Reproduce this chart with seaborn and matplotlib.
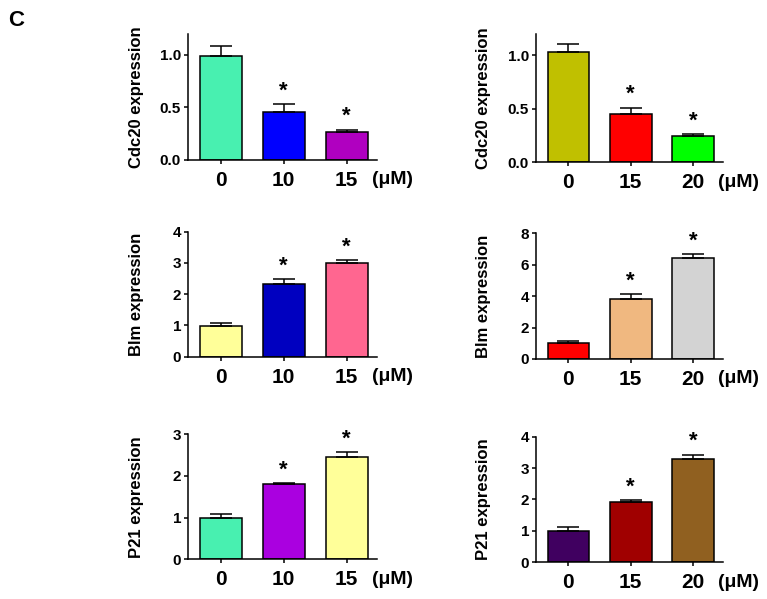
import matplotlib
matplotlib.use("Agg")
import matplotlib.pyplot as plt
import seaborn as sns
import pandas as pd

# doses per column
doses_left = ["0", "10", "15"]
doses_right = ["0", "15", "20"]

# Cdc20
cdc20_left = [0.99, 0.46, 0.27]
cdc20_left_err = [0.10, 0.07, 0.02]
cdc20_right = [1.03, 0.45, 0.24]
cdc20_right_err = [0.08, 0.06, 0.02]

# Blm
blm_left = [0.98, 2.34, 2.99]
blm_left_err = [0.11, 0.14, 0.10]
blm_right = [1.04, 3.80, 6.45]
blm_right_err = [0.11, 0.32, 0.23]

# P21
p21_left = [1.00, 1.81, 2.45]
p21_left_err = [0.08, 0.02, 0.12]
p21_right = [1.00, 1.91, 3.29]
p21_right_err = [0.11, 0.07, 0.13]

significant = [False, True, True]

sns.set_style("ticks")
plt.rcParams["font.family"] = ["Liberation Sans", "DejaVu Sans"]
plt.rcParams["font.weight"] = "bold"
plt.rcParams["axes.labelweight"] = "bold"
plt.rcParams["text.color"] = "black"
plt.rcParams["axes.labelcolor"] = "black"
plt.rcParams["xtick.color"] = "black"
plt.rcParams["ytick.color"] = "black"

fig = plt.figure(figsize=(7.67, 5.99), dpi=100)

panels = [
    # (doses, values, errors, colours, ymax, yticks, fmt, label, rect)
    (doses_left, cdc20_left, cdc20_left_err, ["#48F0B0", "#0000FF", "#B000C0"],
     1.2, [0, 0.5, 1.0], "{:.1f}", "Cdc20 expression", [0.2451, 0.7329, 0.2464, 0.2104]),
    (doses_right, cdc20_right, cdc20_right_err, ["#C0C000", "#FF0000", "#00FF00"],
     1.2, [0, 0.5, 1.0], "{:.1f}", "Cdc20 expression", [0.6988, 0.7295, 0.2438, 0.2137]),
    (doses_left, blm_left, blm_left_err, ["#FFFF99", "#0000C0", "#FF6690"],
     4, [0, 1, 2, 3, 4], "{:.0f}", "Blm expression", [0.2451, 0.4045, 0.2464, 0.2087]),
    (doses_right, blm_right, blm_right_err, ["#FF0000", "#F0B880", "#D3D3D3"],
     8, [0, 2, 4, 6, 8], "{:.0f}", "Blm expression", [0.6988, 0.4007, 0.2438, 0.2098]),
    (doses_left, p21_left, p21_left_err, ["#48F0B0", "#AA00E0", "#FFFF99"],
     3, [0, 1, 2, 3], "{:.0f}", "P21 expression", [0.2451, 0.0663, 0.2464, 0.2087]),
    (doses_right, p21_right, p21_right_err, ["#400060", "#A00000", "#906020"],
     4, [0, 1, 2, 3, 4], "{:.0f}", "P21 expression", [0.6988, 0.0613, 0.2438, 0.2097]),
]

for doses, vals, errs, cols, ymax, yticks, fmt, label, rect in panels:
    ax = fig.add_axes(rect)
    df = pd.DataFrame({"dose": doses, "value": vals})
    sns.barplot(data=df, x="dose", y="value", hue="dose", palette=cols,
                saturation=1, legend=False, width=0.67, edgecolor="black",
                linewidth=1.1, errorbar=None, ax=ax)
    ax.errorbar(range(len(vals)), vals, yerr=[[0] * len(vals), errs], fmt="none",
                ecolor="black", elinewidth=1.1, capsize=8, capthick=1.1, zorder=3)
    for i, (v, e, s) in enumerate(zip(vals, errs, significant)):
        if s:
            ax.annotate("*", xy=(i, v + e), xytext=(0, 2), textcoords="offset points",
                        ha="center", va="bottom", fontsize=16, fontweight="bold")
    ax.set_xlim(-0.52, 2.48)
    ax.set_ylim(0, ymax)
    ax.set_yticks(yticks)
    ax.set_yticklabels([fmt.format(t) for t in yticks])
    ax.set_xlabel("")
    ax.set_ylabel(label, fontsize=12, fontweight="bold")
    ax.yaxis.set_label_coords(-0.235 if rect[0] < 0.5 else -0.242, 0.5)
    ax.tick_params(axis="y", labelsize=11, length=3, width=1.1, pad=2)
    ax.tick_params(axis="x", labelsize=15, length=3, width=1.1, pad=5)
    for t in ax.get_xticklabels() + ax.get_yticklabels():
        t.set_fontweight("bold")
    for sp in ["left", "bottom"]:
        ax.spines[sp].set_linewidth(1.1)
        ax.spines[sp].set_color("black")
    sns.despine(ax=ax)
    ax.annotate("(μM)", xy=(1.0, 0), xycoords="axes fraction", xytext=(-3.6, -14.4),
                textcoords="offset points", ha="left", va="center",
                fontsize=14, fontweight="bold")

fig.text(0.0215, 1 - 20 / 599, "C", fontsize=16, fontweight="bold", va="center", ha="center")

fig.savefig("out.png", dpi=100)
